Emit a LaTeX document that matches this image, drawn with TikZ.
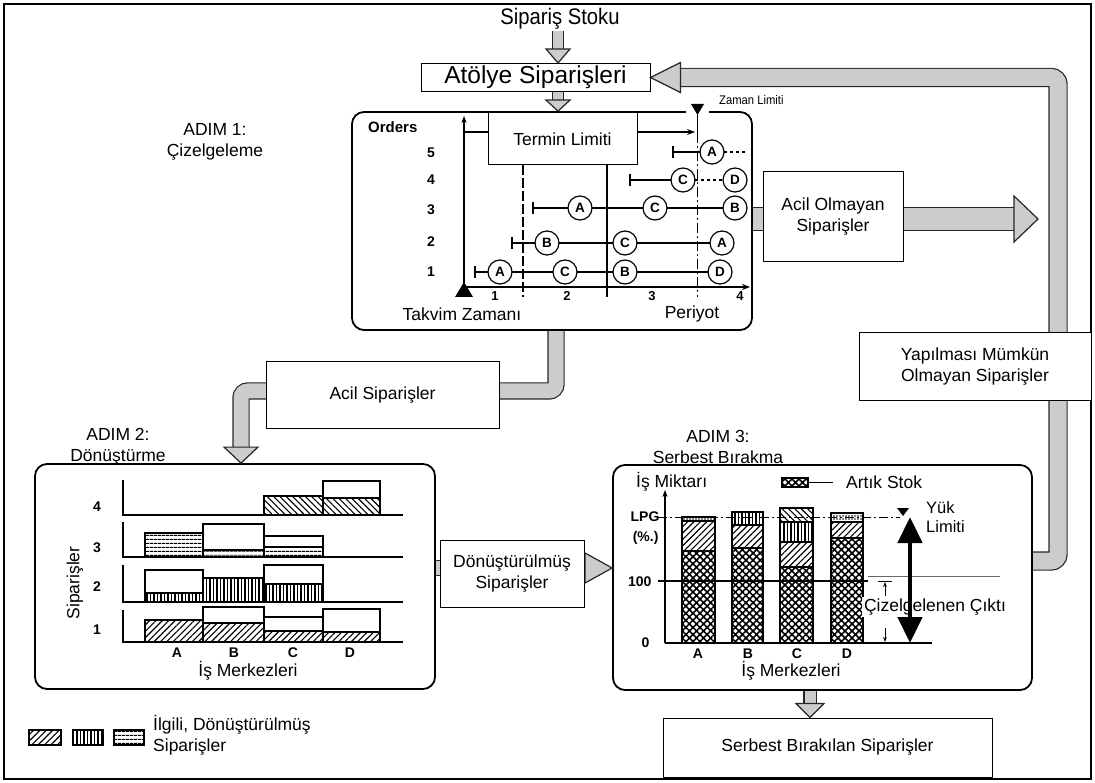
\documentclass[tikz,border=0pt]{standalone}
\usepackage{fontspec}
\setmainfont{Liberation Sans}
\newfontfamily\narrowfont[FakeStretch=0.9]{Liberation Sans}
\usetikzlibrary{patterns.meta,arrows.meta,calc,backgrounds}
\definecolor{bandfill}{gray}{0.80}
\newcommand\bandpath[2]{\draw[line width=#1pt+2.4pt, draw=black!85, rounded corners=7pt] #2; \draw[line width=#1pt, draw=bandfill, rounded corners=7pt] #2;}
\newcommand\headdown[3]{\filldraw[fill=bandfill,draw=black!85,line width=1.2pt] #1 -- ++(-#2,-#3) -- ++(2*#2,0) -- cycle;}
\newcommand\headright[3]{\filldraw[fill=bandfill,draw=black!85,line width=1.2pt] #1 -- ++(-#3,-#2) -- ++(0,2*#2) -- cycle;}
\newcommand\headleft[3]{\filldraw[fill=bandfill,draw=black!85,line width=1.2pt] #1 -- ++(#3,-#2) -- ++(0,2*#2) -- cycle;}
\tikzset{
  lbl/.style={font=\fontsize{17.5}{21}\selectfont, align=center},
  box/.style={draw, line width=1pt, fill=white, lbl, inner sep=0pt},
  stepbox/.style={draw, line width=1.8pt, rounded corners=12pt, inner sep=0pt, fill=white},
  circ/.style={circle, draw, line width=1.2pt, fill=white, minimum size=24pt, inner sep=0pt, font=\bfseries\fontsize{13.5}{14}\selectfont},
  small/.style={font=\bfseries\fontsize{14}{15}\selectfont},
  barst/.style={draw, line width=1.2pt},
  ne/.style={pattern={Lines[angle=45,distance=4.5pt,line width=1.1pt]}},
  nw/.style={pattern={Lines[angle=-45,distance=4.5pt,line width=1.1pt]}},
  vl/.style={pattern={Lines[angle=90,distance=3.5pt,line width=1.1pt]}},
  hl/.style={pattern={Lines[angle=0,distance=4pt,line width=1.1pt]}},
  xh/.style={pattern={Hatch[angle=45,distance=5pt,line width=1.6pt]}},
  dt/.style={pattern={Dots[distance=3pt,radius=0.9pt]}},
  rowline/.style={line width=1.1pt},
}
\begin{document}
\begin{tikzpicture}[x=1pt,y=-1pt]
\useasboundingbox (0,0) rectangle (1095,783);
\draw[line width=2pt] (4,4) rectangle (1091,779);

% ---------- top ----------
\node[lbl, font=\narrowfont\fontsize{22.5}{24}\selectfont, inner sep=1pt] (stok) at (560,19) {Sipariş Stoku};
\node[box, minimum width=229pt, minimum height=28pt, font=\fontsize{24.5}{26}\selectfont] (atolye) at (535.5,77.5) {Atölye Siparişleri};

% ---------- step boxes ----------
\node[stepbox, minimum width=400pt, minimum height=218pt] (step1) at (552,221) {};
\node[stepbox, minimum width=400pt, minimum height=225pt] (step2) at (235,576.5) {};
\node[stepbox, minimum width=419pt, minimum height=225pt] (step3) at (822.5,577.5) {};

\node[lbl] (adim1) at (215,142) {ADIM 1:\\Çizelgeleme};
\node[lbl] (adim2) at (118,447) {ADIM 2:\\Dönüştürme};
\node[lbl] (adim3) at (718,447) {ADIM 3:\\Serbest Bırakma};

% ---------- step 1 content ----------
\fill[white] (686,108) rectangle (709,115);
\fill (691,104) -- (704,104) -- (697.5,115) -- cycle;
\node[anchor=west, font=\narrowfont\fontsize{12.5}{14}\selectfont, inner sep=0pt] (zaman) at (719,100) {Zaman Limiti};
\node[font=\bfseries\fontsize{15}{16}\selectfont, anchor=west, inner sep=0pt] (orders) at (368,127) {Orders};
\foreach \n/\yy in {5/153,4/180,3/210,2/242,1/272}
  \node[small] (lab\n) at (431,\yy) {\n};
\draw[line width=1.1pt, dash pattern=on 10pt off 3pt] (523,165) -- (523,297);
\draw[line width=1.1pt] (607,165) -- (607,297);
\draw[line width=1.1pt, dash pattern=on 10pt off 3pt on 2pt off 3pt] (697.5,115) -- (697.5,297);
\draw[line width=1.3pt, -{Stealth[length=7pt]}] (464,293) -- (464,116);
\draw[line width=1.3pt, -{Stealth[length=8pt]}] (464,287) -- (750,287);
\fill (455,297) -- (464,282) -- (473,297) -- cycle;
\draw[rowline, -{Stealth[length=8pt]}] (464,132) -- (695,132);
\draw[rowline] (697.5,125) -- (697.5,139);
\foreach \n/\xx in {1/495,2/567,3/652,4/740}
  \node[small, font=\bfseries\fontsize{13}{14}\selectfont, inner sep=1pt] (per\n) at (\xx,296) {\n};
\node[lbl, inner sep=1pt] (takvim) at (462,314) {Takvim Zamanı};
\node[lbl, inner sep=1pt] (periyot) at (692,314) {Periyot};
% row 5
\draw[rowline] (673,146) -- (673,158); \draw[rowline] (673,152) -- (712,152);
\draw[rowline, dashed] (712,152) -- (746,152);
\node[circ] (r5a) at (712,152) {A};
% row 4
\draw[rowline] (630,174) -- (630,186); \draw[rowline] (630,180) -- (683,180);
\draw[rowline, dashed] (683,180) -- (735,180);
\node[circ] (r4c) at (683,180) {C};
\node[circ] (r4d) at (735,180) {D};
% row 3
\draw[rowline] (533,202) -- (533,214); \draw[rowline] (533,208) -- (735,208);
\node[circ] (r3a) at (580,208) {A};
\node[circ] (r3c) at (655,208) {C};
\node[circ] (r3b) at (735,208) {B};
% row 2
\draw[rowline] (512,237) -- (512,249); \draw[rowline] (512,243) -- (722,243);
\node[circ] (r2b) at (547,243) {B};
\node[circ] (r2c) at (625,243) {C};
\node[circ] (r2a) at (722,243) {A};
% row 1
\draw[rowline] (475,266) -- (475,278); \draw[rowline] (475,272) -- (720,272);
\node[circ] (r1a) at (500,272) {A};
\node[circ] (r1c) at (565,272) {C};
\node[circ] (r1b) at (625,272) {B};
\node[circ] (r1d) at (720,272) {D};
\node[box, minimum width=149pt, minimum height=52pt] (termin) at (562.5,139) {Termin Limiti};

% ---------- step 2 content ----------
\node[lbl, rotate=90] (spv) at (75,583) {Siparişler};
\foreach \n/\yy in {4/507,3/548,2/587,1/630}
  \node[small] (s2lab\n) at (97,\yy) {\n};
% panel 4
\draw[barst, nw] (264,515) rectangle (323,496);
\draw[barst, nw] (323,515) rectangle (380,498);
\draw[barst] (323,498) rectangle (380,481);
\draw[line width=1.2pt] (123,480) -- (123,515) -- (403,515);
% panel 3
\draw[barst, hl] (145,557) rectangle (203,533);
\draw[barst, hl] (203,557) rectangle (264,550);
\draw[barst] (203,550) rectangle (264,524);
\draw[barst, hl] (264,557) rectangle (323,547);
\draw[barst] (264,547) rectangle (323,536);
\draw[line width=1.2pt] (123,522) -- (123,557) -- (403,557);
% panel 2
\draw[barst, vl] (145,602) rectangle (203,593);
\draw[barst] (145,593) rectangle (203,570);
\draw[barst, vl] (203,602) rectangle (264,578);
\draw[barst, vl] (264,602) rectangle (323,584);
\draw[barst] (264,584) rectangle (323,565);
\draw[line width=1.2pt] (123,565) -- (123,602) -- (403,602);
% panel 1
\draw[barst, ne] (145,642) rectangle (203,620);
\draw[barst, ne] (203,642) rectangle (264,623);
\draw[barst] (203,623) rectangle (264,607);
\draw[barst, ne] (264,642) rectangle (323,631);
\draw[barst] (264,631) rectangle (323,617);
\draw[barst, ne] (323,642) rectangle (380,632);
\draw[barst] (323,632) rectangle (380,609);
\draw[line width=1.2pt] (123,610) -- (123,642) -- (403,642);
\foreach \l/\xx in {A/177,B/234,C/293,D/350}
  \node[small] (s2c\l) at (\xx,653) {\l};
\node[lbl] (ism2) at (248,671) {İş Merkezleri};

% legend
\draw[barst, ne] (29,730) rectangle (61,745);
\draw[barst, vl] (73,730) rectangle (103,745);
\draw[barst, hl] (114,730) rectangle (144,745);
\node[lbl, anchor=west, align=left, inner sep=0pt] (legtxt) at (153,735) {İlgili, Dönüştürülmüş\\Siparişler};

% ---------- step 3 content ----------
\node[lbl, anchor=west, inner sep=0pt] (ismik) at (636,482) {İş Miktarı};
\draw[line width=1.2pt, xh] (782,478) rectangle (808,487);
\draw[line width=1pt] (808,482) -- (833,482);
\node[lbl, anchor=west, inner sep=0pt] (artik) at (846,482) {Artık Stok};
\draw[line width=1pt, dash pattern=on 9pt off 3pt on 2pt off 3pt] (658,517) -- (900,517);
\draw[line width=1.1pt] (658,581) -- (868,581);
\draw[line width=0.8pt, black!60] (868,576) -- (1000,576);
% bars
\draw[barst, xh] (682,643) rectangle (715,551);
\draw[barst, ne] (682,551) rectangle (715,521);
\draw[barst, dt] (682,521) rectangle (715,517);
\draw[barst, xh] (732,643) rectangle (763,548);
\draw[barst, ne] (732,548) rectangle (763,525);
\draw[barst, vl] (732,525) rectangle (763,512);
\draw[barst, xh] (780,643) rectangle (813,567);
\draw[barst, ne] (780,567) rectangle (813,542);
\draw[barst, vl] (780,542) rectangle (813,522);
\draw[barst, nw] (780,522) rectangle (813,508);
\draw[barst, xh] (831,643) rectangle (863,538);
\draw[barst, ne] (831,538) rectangle (863,522);
\draw[barst, dt] (831,522) rectangle (863,513);
\draw[line width=1.3pt, -{Stealth[length=7pt]}] (665,643) -- (665,490);
\draw[line width=1.3pt] (665,643) -- (932,643);
\node[small, anchor=east] (lpg) at (663,517) {LPG};
\node[small, anchor=east] (pct) at (662,538) {(\%.)};
\node[small, anchor=east] (h100) at (655,582) {100};
\node[small, anchor=east] (zero) at (653,643) {0};
\foreach \l/\xx in {A/698,B/748,C/797,D/847}
  \node[small] (s3c\l) at (\xx,654) {\l};
\node[lbl, fill=white, minimum width=192pt, minimum height=24pt, inner sep=0pt] (ism3) at (791,671) {İş Merkezleri};
\draw[line width=1pt] (878,581) -- (892,581);
\draw[line width=1pt, -{Stealth[length=5pt]}] (885,596) -- (885,582);
\draw[line width=1pt, -{Stealth[length=5pt]}] (885,628) -- (885,642);
\fill (897,508) -- (909,508) -- (903,516) -- cycle;
\node[lbl, anchor=west, align=left, fill=white, inner sep=1pt, font=\fontsize{16.5}{19}\selectfont] (yuk) at (925,517) {Yük\\Limiti};
\node[lbl, fill=white, inner sep=2pt] (cikti) at (935,607) {Çizelgelenen Çıktı};
\draw[line width=4.5pt, {Triangle[length=26pt,width=24pt]}-{Triangle[length=26pt,width=24pt]}] (910,517) -- (910,643);

% ---------- label boxes ----------
\node[box, minimum width=140pt, minimum height=90pt] (acilolm) at (833,217) {Acil Olmayan\\Siparişler};
\node[box, minimum width=233pt, minimum height=66pt] (acil) at (382.5,395) {Acil Siparişler};
\node[box, minimum width=144pt, minimum height=67pt] (donus) at (512,573.5) {Dönüştürülmüş\\Siparişler};
\node[box, minimum width=232pt, minimum height=68pt] (yapil) at (975,367) {Yapılması Mümkün\\Olmayan Siparişler};
\node[box, minimum width=329pt, minimum height=59pt] (serbest) at (827.5,747.5) {Serbest Bırakılan Siparişler};

% ---------- fat arrows ----------
\coordinate (aX) at (558,0);
\coordinate (uX) at (556,0);
\coordinate (uY) at (0,391);
\coordinate (uX2) at (241,0);
\coordinate (nuY) at (0,219);
\coordinate (nuTip) at (1038,219);
\coordinate (dY) at (0,568);
\coordinate (fbX) at (1058,0);
\coordinate (fbY) at (0,561);
\coordinate (sX) at (810,0);
\begin{scope}[on background layer]
\bandpath{10}{(aX |- stok.south) -- ($(aX |- atolye.north)+(0,-13)$)}
\bandpath{10}{(aX |- atolye.south) -- ($(aX |- step1.north)+(0,-11)$)}
\bandpath{15}{(uX |- step1.south) -- (uX |- uY) -- (uX2 |- uY) -- ($(uX2 |- step2.north)+(0,-15)$)}
\bandpath{22}{(step1.east |- nuY) -- ($(nuTip)+(-23,0)$)}
\bandpath{14}{(step2.east |- dY) -- ($(step3.west |- dY)+(-26,0)$)}
\bandpath{17}{(step3.east |- fbY) -- (fbX |- fbY) -- (fbX |- atolye.east) -- ($(atolye.east)+(29,0)$)}
\bandpath{11}{(sX |- step3.south) -- ($(sX |- serbest.north)+(0,-13)$)}
\end{scope}
\headdown{(aX |- atolye.north)}{12}{14}
\headdown{(aX |- step1.north)}{12}{11}
\headdown{(uX2 |- step2.north)}{17}{16}
\headright{(nuTip)}{23}{24}
\headright{(step3.west |- dY)}{15}{27}
\headleft{(atolye.east)}{15}{30}
\headdown{(sX |- serbest.north)}{14}{14}
\end{tikzpicture}
\end{document}
